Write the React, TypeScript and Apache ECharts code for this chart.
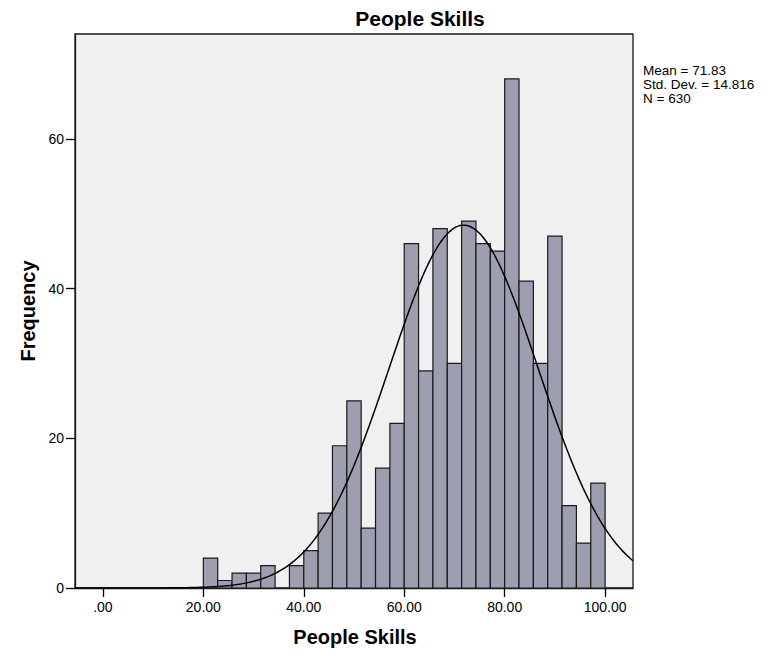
import React, { useEffect, useRef } from "react";
import * as echarts from "echarts";

// Histogram data: 28 equal bins from 20 to 100
const binLow = 20;
const binHigh = 100;
const counts = [4, 1, 2, 2, 3, 0, 3, 5, 10, 19, 25, 8, 16, 22, 46, 29, 48, 30, 49, 46, 45, 68, 41, 30, 47, 11, 6, 14];
const xTicks = [0, 20, 40, 60, 80, 100];
const yTicks = [0, 20, 40, 60];
const stats = { mean: 71.83, sd: 14.816, n: 630 };
const statLines = ["Mean = 71.83", "Std. Dev. = 14.816", "N = 630"];
const xMin = -5.556;
const xMax = 105.556;
const yMax = 74;

const FONT = "'Liberation Sans', Arial, Helvetica, sans-serif";

export default function App() {
  const ref = useRef<HTMLDivElement>(null);
  useEffect(() => {
    if (!ref.current) return;
    const chart = echarts.init(ref.current, undefined, { renderer: "svg" });
    const w = (binHigh - binLow) / counts.length;
    const bins = counts.map((c, i) => [binLow + i * w, binLow + (i + 1) * w, c]);
    const curve: number[][] = [];
    const steps = 300;
    for (let i = 0; i <= steps; i++) {
      const x = xMin + ((xMax - xMin) * i) / steps;
      const z = (x - stats.mean) / stats.sd;
      const y = (stats.n * w) / (stats.sd * Math.sqrt(2 * Math.PI)) * Math.exp(-0.5 * z * z);
      curve.push([x, y]);
    }
    chart.setOption({
      animation: false,
      grid: {
        left: 75,
        top: 34,
        width: 558,
        height: 554,
        show: true,
        backgroundColor: "#f0f0f0",
        borderColor: "#1a1a1a",
        borderWidth: 1.3,
      },
      xAxis: {
        type: "value",
        min: xMin,
        max: xMax,
        axisLine: { show: true, onZero: false, lineStyle: { color: "#1a1a1a", width: 1.3 } },
        axisTick: { show: true, length: 9, customValues: xTicks, lineStyle: { color: "#000", width: 1.3 } },
        axisLabel: {
          customValues: xTicks,
          margin: 12,
          fontSize: 14,
          fontFamily: FONT,
          color: "#000",
          formatter: (v: number) => (v === 0 ? ".00" : v.toFixed(2)),
        },
        splitLine: { show: false },
      },
      yAxis: {
        type: "value",
        min: 0,
        max: yMax,
        axisLine: { show: true, onZero: false, lineStyle: { color: "#1a1a1a", width: 1.3 } },
        axisTick: { show: true, length: 9, customValues: yTicks, lineStyle: { color: "#000", width: 1.3 } },
        axisLabel: {
          customValues: yTicks,
          margin: 11,
          fontSize: 14,
          fontFamily: FONT,
          color: "#000",
        },
        splitLine: { show: false },
      },
      series: [
        {
          type: "custom",
          data: bins,
          encode: { x: [0, 1], y: 2 },
          renderItem: (params: any, api: any) => {
            const c = api.value(2);
            if (!c) return null;
            const p0 = api.coord([api.value(0), c]);
            const p1 = api.coord([api.value(1), 0]);
            return {
              type: "rect",
              shape: { x: p0[0], y: p0[1], width: p1[0] - p0[0], height: p1[1] - p0[1] },
              style: { fill: "#9e9eb1", stroke: "#1a1a1a", lineWidth: 1.2 },
            };
          },
          z: 2,
        },
        {
          type: "line",
          data: curve,
          showSymbol: false,
          symbol: "none",
          lineStyle: { color: "#000", width: 1.5 },
          z: 3,
        },
      ],
      graphic: [
        {
          type: "text",
          x: 420,
          y: 18,
          style: {
            text: "People Skills",
            fontFamily: FONT,
            fontWeight: "bold",
            fontSize: 21,
            fill: "#000",
            textAlign: "center",
            textVerticalAlign: "middle",
          },
        },
        {
          type: "text",
          x: 355,
          y: 637,
          style: {
            text: "People Skills",
            fontFamily: FONT,
            fontWeight: "bold",
            fontSize: 20,
            fill: "#000",
            textAlign: "center",
            textVerticalAlign: "middle",
          },
        },
        {
          type: "text",
          x: 28,
          y: 311,
          rotation: Math.PI / 2,
          style: {
            text: "Frequency",
            fontFamily: FONT,
            fontWeight: "bold",
            fontSize: 20,
            fill: "#000",
            textAlign: "center",
            textVerticalAlign: "middle",
          },
        },
        ...statLines.map((t, i) => ({
          type: "text",
          x: 643,
          y: 70 + i * 14,
          style: {
            text: t,
            fontFamily: FONT,
            fontSize: 13.5,
            fill: "#000",
            textAlign: "left",
            textVerticalAlign: "middle",
          },
        })),
      ],
    });
    return () => chart.dispose();
  }, []);
  return <div ref={ref} style={{ width: 776, height: 654, position: "absolute", left: 0, top: 0 }} />;
}
